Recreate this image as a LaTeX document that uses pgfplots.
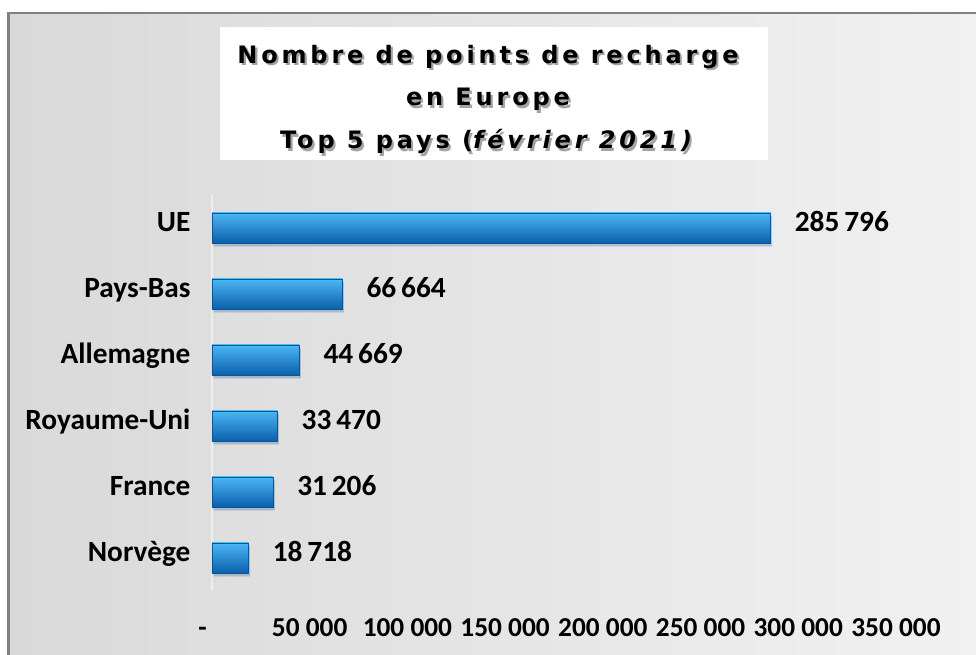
\documentclass[border=0pt]{standalone}
\usepackage{fontspec}
\setmainfont{Carlito}
\newfontfamily\titlefont[LetterSpace=16,
  BoldFont={DejaVu Sans Bold},
  BoldItalicFont={DejaVu Sans Bold Oblique}]{DejaVu Sans}
\usepackage{pgfplots}
\pgfplotsset{compat=1.18}
\definecolor{bgL}{HTML}{D9D9D9}
\definecolor{bgR}{HTML}{F1F1F1}
\definecolor{frame}{HTML}{808080}
\definecolor{barTop}{HTML}{4CB6F2}
\definecolor{barMid}{HTML}{1C85D7}
\definecolor{barBot}{HTML}{0B5FAD}
\definecolor{barEdge}{HTML}{0C5498}

% texte avec ombre portee (titre)
\newcommand{\shadowtext}[3]{%
  \node[anchor=base, text=black!45, opacity=0.8, inner sep=0pt] at ([xshift=1.6pt,yshift=-1.6pt]#1,#2) {#3};
  \node[anchor=base, text=black, inner sep=0pt] at (#1,#2) {#3};}

\pgfplotsset{
  bevel/.style={top color=barTop, middle color=barMid, bottom color=barBot,
    draw=barEdge, line width=0.4pt,
    preaction={draw=none, fill=black, fill opacity=0.12,
      transform canvas={xshift=1.2pt, yshift=-2.5pt}}},
}

\begin{document}
\begin{tikzpicture}
\useasboundingbox (0,0) rectangle (732pt,491.25pt);
\fill[white] (0,0) rectangle (732pt,491.25pt);
\shade[left color=bgL, right color=bgR] (5.25pt,0) rectangle (732pt,481.5pt);
\draw[frame, line width=2pt] (6.25pt,0) -- (6.25pt,481.5pt) -- (732pt,481.5pt);

% cadre du titre
\fill[white] (165pt,371.25pt) rectangle (576pt,471pt);
\begingroup
\titlefont\bfseries\fontsize{18}{21}\selectfont
\shadowtext{366pt}{443.6pt}{Nombre de points de recharge}
\shadowtext{366pt}{411.75pt}{en Europe}
\shadowtext{366pt}{379.5pt}{Top 5 pays (\textit{février 2021)}}
\endgroup

\begin{axis}[
  at={(159pt,48pt)}, anchor=south west,
  scale only axis, width=513pt, height=297pt,
  xbar, bar width=22.5pt, bar shift=0pt,
  xmin=0, xmax=350000,
  ymin=-0.5, ymax=5.5, y dir=reverse,
  ytick={0,1,2,3,4,5},
  yticklabels={UE,Pays-Bas,Allemagne,Royaume-Uni,France,Norvège},
  xtick={0,50000,100000,150000,200000,250000,300000,350000},
  xticklabels={\makebox[0pt][r]{-\kern4pt},50 000,100 000,150 000,200 000,250 000,300 000,350 000},
  scaled x ticks=false,
  axis y line*=left, axis x line*=bottom,
  x axis line style={draw=none},
  y axis line style={draw=white!93!black, line width=1pt},
  tick style={draw=none}, major tick length=0pt,
  xticklabel style={font=\bfseries\fontsize{20.5}{23}\selectfont, text=black,
    anchor=base, inner sep=0pt, yshift=-34.5pt},
  yticklabel style={font=\bfseries\fontsize{22}{25}\selectfont, text=black,
    anchor=mid east, inner sep=0pt, xshift=-16pt},
  clip=false,
  point meta=x,
  nodes near coords,
  nodes near coords style={anchor=mid west, inner sep=0pt, xshift=18pt,
    font=\bfseries\fontsize{22}{25}\selectfont, text=black,
    /pgf/number format/.cd, fixed, precision=0, 1000 sep={\,}, assume math mode=true},
]
\addplot[bevel] coordinates {(285796,0)};
\addplot[bevel] coordinates {(66664,1)};
\addplot[bevel] coordinates {(44669,2)};
\addplot[bevel] coordinates {(33470,3)};
\addplot[bevel] coordinates {(31206,4)};
\addplot[bevel] coordinates {(18718,5)};
\end{axis}
\end{tikzpicture}
\end{document}
